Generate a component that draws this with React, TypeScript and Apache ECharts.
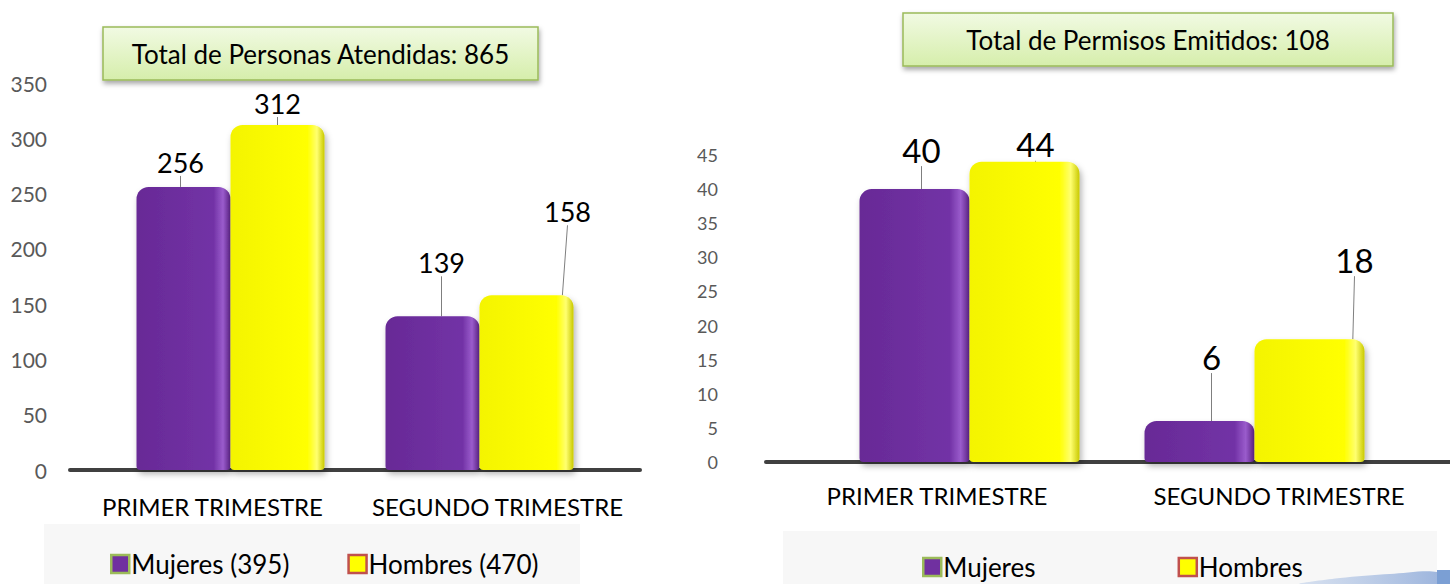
import React, { useEffect, useRef } from "react";
import * as echarts from "echarts";

const categories = ["PRIMER TRIMESTRE", "SEGUNDO TRIMESTRE"];
const personasMujeres = [256, 139];
const personasHombres = [312, 158];
const permisosMujeres = [40, 6];
const permisosHombres = [44, 18];
const personasLegend = ["Mujeres (395)", "Hombres (470)"];
const permisosLegend = ["Mujeres", "Hombres"];
const personasTitle = "Total de Personas Atendidas: 865";
const permisosTitle = "Total de Permisos Emitidos: 108";
const personasAxis = { min: 0, max: 350, interval: 50 };
const permisosAxis = { min: 0, max: 45, interval: 5 };

// label offsets (style only)
const offPersonasM = [[-3, -6], [9, -35]];
const offPersonasH = [[0, -3], [41, -65]];
const offPermisosM = [[7, -18], [12, -43]];
const offPermisosH = [[11, 4], [45, -58]];

const FONT = "Lato, 'Open Sans', sans-serif";
const PURPLE = "#7030a0";
const YELLOW = "#ffff00";

const purpleFill = new echarts.graphic.LinearGradient(0, 0, 1, 0, [
  { offset: 0, color: "#682a96" },
  { offset: 0.82, color: "#7232a6" },
  { offset: 0.92, color: "#9a5ccc" },
  { offset: 1, color: "#5a2284" },
]);
const yellowFill = new echarts.graphic.LinearGradient(0, 0, 1, 0, [
  { offset: 0, color: "#f4f400" },
  { offset: 0.82, color: "#ffff00" },
  { offset: 0.92, color: "#ffff70" },
  { offset: 1, color: "#c9c900" },
]);

function barSeries(name: string, data: number[], fill: any, xi: number, width: number, fontSize: number, offs: number[][]) {
  return {
    type: "bar",
    name,
    data,
    xAxisIndex: xi,
    yAxisIndex: xi,
    barWidth: width,
    barGap: "0%",
    itemStyle: {
      color: fill,
      borderRadius: [12, 12, 4, 4],
      shadowColor: "rgba(0,0,0,0.3)",
      shadowBlur: 6,
      shadowOffsetX: 2,
      shadowOffsetY: 4,
    },
    label: {
      show: true,
      position: "top",
      fontSize,
      fontFamily: FONT,
      color: "#000",
    },
    labelLayout: (p: any) => ({ dx: offs[p.dataIndex][0], dy: offs[p.dataIndex][1] }),
    labelLine: { show: true, lineStyle: { color: "#7f7f7f", width: 1 } },
  };
}

function titleBox(x: number, y: number, w: number, h: number, text: string) {
  return {
    type: "group",
    z: 10,
    children: [
      {
        type: "rect",
        shape: { x, y, width: w, height: h },
        style: {
          fill: new echarts.graphic.LinearGradient(0, 0, 0, 1, [
            { offset: 0, color: "#f1fae3" },
            { offset: 1, color: "#d6eeab" },
          ]),
          stroke: "#9bbb59",
          lineWidth: 1.5,
          shadowColor: "rgba(0,0,0,0.35)",
          shadowBlur: 5,
          shadowOffsetX: 1,
          shadowOffsetY: 3,
        },
      },
      {
        type: "text",
        style: {
          x: x + w / 2,
          y: y + h / 2,
          text,
          fill: "#000",
          font: `26px ${FONT}`,
          align: "center",
          verticalAlign: "middle",
        },
      },
    ],
  };
}

function legendOf(names: string[], left: number, top: number, gap: number) {
  return {
    left,
    top,
    z: 5,
    icon: "rect",
    itemWidth: 18,
    itemHeight: 18,
    itemGap: gap,
    selectedMode: false,
    textStyle: { fontSize: 26, lineHeight: 26, color: "#000", fontFamily: FONT, padding: [0, 0, 0, -3] },
    data: [
      { name: names[0], itemStyle: { color: PURPLE, borderColor: "#9bbb59", borderWidth: 2.5 } },
      { name: names[1], itemStyle: { color: YELLOW, borderColor: "#c0504d", borderWidth: 2.5 } },
    ],
  };
}

export default function App() {
  const ref = useRef<HTMLDivElement>(null);
  useEffect(() => {
    if (!ref.current) return;
    const chart = echarts.init(ref.current, null, { renderer: "svg" });
    const hidden = { show: false };
    chart.setOption({
      animation: false,
      backgroundColor: "#ffffff",
      textStyle: { fontFamily: FONT },
      grid: [
        { left: 106, width: 498, top: 83, height: 387 },
        { left: 70, width: 570, top: 83, height: 387 },
        { left: 827, width: 570, top: 155, height: 307 },
        { left: 766, width: 690, top: 155, height: 307 },
      ],
      xAxis: [
        { type: "category", gridIndex: 0, data: categories, ...hidden },
        {
          type: "category",
          gridIndex: 1,
          data: categories,
          axisLine: { lineStyle: { color: "#404040", width: 4 } },
          axisTick: hidden,
          axisLabel: { interval: 0, margin: 24, fontSize: 24, color: "#000", fontFamily: FONT },
        },
        { type: "category", gridIndex: 2, data: categories, ...hidden },
        {
          type: "category",
          gridIndex: 3,
          data: categories,
          axisLine: { lineStyle: { color: "#404040", width: 4 } },
          axisTick: hidden,
          axisLabel: { interval: 0, margin: 21, fontSize: 24, color: "#000", fontFamily: FONT },
        },
      ],
      yAxis: [
        {
          type: "value",
          gridIndex: 0,
          ...personasAxis,
          axisLine: hidden,
          axisTick: hidden,
          splitLine: hidden,
          axisLabel: { margin: 59, fontSize: 21, color: "#595959", fontFamily: FONT },
        },
        { type: "value", gridIndex: 1, ...personasAxis, show: false },
        {
          type: "value",
          gridIndex: 2,
          ...permisosAxis,
          axisLine: hidden,
          axisTick: hidden,
          splitLine: hidden,
          axisLabel: { margin: 109, fontSize: 18, color: "#595959", fontFamily: FONT },
        },
        { type: "value", gridIndex: 3, ...permisosAxis, show: false },
      ],
      legend: [legendOf(personasLegend, 105, 546, 58), legendOf(permisosLegend, 917, 549, 142)],
      graphic: [
        { type: "rect", z: 0, shape: { x: 44, y: 524, width: 536, height: 70 }, style: { fill: "#f7f7f7" } },
        { type: "rect", z: 0, shape: { x: 783, y: 531, width: 654, height: 60 }, style: { fill: "#f7f7f7" } },
        {
          type: "polygon",
          z: 6,
          shape: {
            points: [[1300, 584], [1340, 578], [1390, 574], [1437, 572], [1437, 584]],
            smooth: 0.3,
          },
          style: {
            fill: new echarts.graphic.LinearGradient(0, 0, 1, 0, [
              { offset: 0, color: "rgba(200,214,236,0.7)" },
              { offset: 1, color: "#9db5dd" },
            ]),
          },
        },
        { type: "rect", z: 6, shape: { x: 1437, y: 570, width: 13, height: 14 }, style: { fill: "#7b9fd4" } },
        titleBox(103, 27, 435, 53, personasTitle),
        titleBox(903, 13, 490, 53, permisosTitle),
      ],
      series: [
        barSeries(personasLegend[0], personasMujeres, purpleFill, 0, 94, 27, offPersonasM),
        barSeries(personasLegend[1], personasHombres, yellowFill, 0, 94, 27, offPersonasH),
        barSeries(permisosLegend[0], permisosMujeres, purpleFill, 2, 110, 33, offPermisosM),
        barSeries(permisosLegend[1], permisosHombres, yellowFill, 2, 110, 33, offPermisosH),
      ],
    });
    return () => chart.dispose();
  }, []);
  return <div ref={ref} style={{ width: 1450, height: 584, position: "absolute", left: 0, top: 0 }} />;
}
